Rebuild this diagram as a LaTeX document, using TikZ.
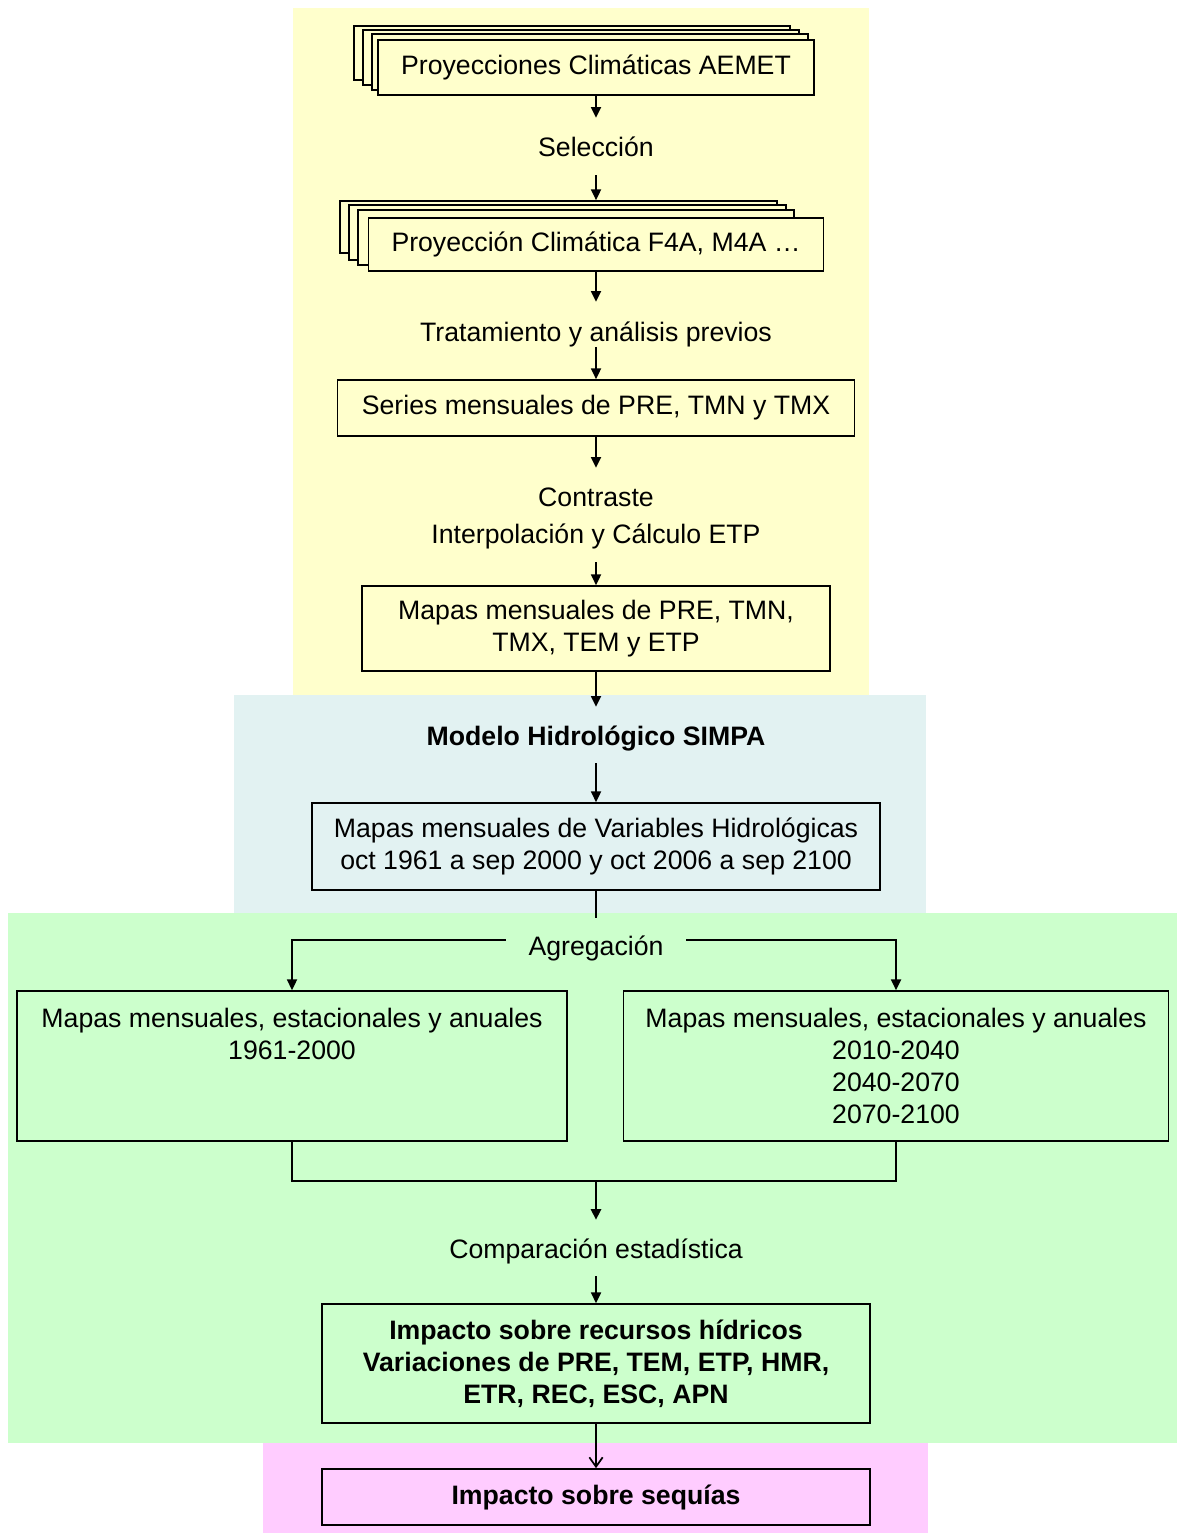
\documentclass[tikz,border=0pt]{standalone}
\usepackage{fontspec}
\setmainfont{Liberation Sans}
\usetikzlibrary{arrows.meta,calc}
\definecolor{ybg}{HTML}{FFFFCC}
\definecolor{bbg}{HTML}{E2F2F2}
\definecolor{gbg}{HTML}{CCFFCC}
\definecolor{pbg}{HTML}{FFCCFF}
\begin{document}
\begin{tikzpicture}[x=0.75pt,y=-0.75pt,
 txt/.style={font=\fontsize{20}{24}\selectfont, align=center},
 box/.style={txt, draw, line width=1.3pt, inner sep=0pt},
 lbl/.style={font=\fontsize{20}{24}\selectfont, inner xsep=0pt, inner ysep=4pt, text height=14pt, text depth=0pt},
 arr/.style={line width=1.3pt, -{Triangle[length=8pt,width=7.5pt]}},
 ln/.style={line width=1.3pt}]
\useasboundingbox (0,0) rectangle (1178,1533);
% background regions
\fill[ybg] (293,8) rectangle (869,695);
\fill[bbg] (234,695) rectangle (926,913);
\fill[gbg] (8,913) rectangle (1177,1443);
\fill[pbg] (263,1443) rectangle (928,1533);
% stacked box 1
\node[box, fill=ybg, minimum width=327pt, minimum height=40.5pt] (b1c) at (572,53) {};
\node[box, fill=ybg, minimum width=327pt, minimum height=41.25pt] (b1b) at (581,57.5) {};
\node[box, fill=ybg, minimum width=327pt, minimum height=42pt] (b1a) at (590,62) {};
\node[box, fill=ybg, minimum width=327pt, minimum height=41.25pt] (b1) at (596,67.5) {Proyecciones Climáticas AEMET};
\node[lbl] (sel) at (596,147) {Selección};
% stacked box 2
\node[box, fill=ybg, minimum width=327.75pt, minimum height=39pt] (b2c) at (558.5,227) {};
\node[box, fill=ybg, minimum width=327.75pt, minimum height=41.25pt] (b2b) at (567.5,232.5) {};
\node[box, fill=ybg, minimum width=327pt, minimum height=41.25pt] (b2a) at (576,237.5) {};
\node[box, fill=ybg, minimum width=341.25pt, minimum height=39.75pt] (b2) at (596,244.5) {Proyección Climática F4A, M4A \dots};
\node[lbl] (trat) at (596,332) {Tratamiento y análisis previos};
\node[box, fill=ybg, minimum width=387.75pt, minimum height=42pt] (b3) at (596,408) {Series mensuales de PRE, TMN y TMX};
\node[lbl] (contr) at (596,497) {Contraste};
\node[lbl] (interp) at (596,534) {Interpolación y Cálculo ETP};
\node[box, fill=ybg, minimum width=351pt, minimum height=63.75pt] (b4) at (596,628.5) {Mapas mensuales de PRE, TMN,\\TMX, TEM y ETP};
\node[lbl, font=\fontsize{20}{24}\selectfont\bfseries] (modelo) at (596,736) {Modelo Hidrológico SIMPA};
\node[box, fill=bbg, minimum width=426pt, minimum height=65.25pt] (b5) at (596,846.5) {Mapas mensuales de Variables Hidrológicas\\oct 1961 a sep 2000 y oct 2006 a sep 2100};
\node[lbl] (agr) at (596,946) {Agregación};
\node[box, fill=gbg, minimum width=412.5pt, minimum height=112.5pt] (bl) at (292,1066) {Mapas mensuales, estacionales y anuales\\1961-2000\\\vphantom{0}\\\vphantom{0}};
\node[box, fill=gbg, minimum width=408.75pt, minimum height=112.5pt] (br) at (896,1066) {Mapas mensuales, estacionales y anuales\\2010-2040\\2040-2070\\2070-2100};
\coordinate (join) at (596,1181);
\node[lbl] (comp) at (596,1249) {Comparación estadística};
\node[box, fill=gbg, font=\fontsize{20}{24}\selectfont\bfseries, minimum width=411pt, minimum height=89.25pt] (b6) at (596,1363.5) {Impacto sobre recursos hídricos\\Variaciones de PRE, TEM, ETP, HMR,\\ETR, REC, ESC, APN};
\node[box, fill=pbg, font=\fontsize{20}{24}\selectfont\bfseries, minimum width=411pt, minimum height=42pt] (b7) at (596,1497) {Impacto sobre sequías};
% connectors
\draw[arr, shorten >=10.7pt] (b1.south) -- (sel.north);
\draw[arr, shorten <=10pt] (sel.south) -- (sel.south |- b2c.north);
\draw[arr, shorten >=11.5pt] (b2.south) -- (trat.north);
\draw[arr] (trat.south) -- (b3.north);
\draw[arr, shorten >=10.7pt] (b3.south) -- (contr.north);
\draw[arr, shorten <=10pt] (interp.south) -- (b4.north);
\draw[arr, shorten >=10.7pt] (b4.south) -- (modelo.north);
\draw[arr, shorten <=9.2pt] (modelo.south) -- (b5.north);
\draw[ln] (b5.south) -- ([yshift=10pt]agr.north);
\draw[arr] ([xshift=-17pt,yshift=4.5pt]agr.west) -| (bl.north);
\draw[arr] ([xshift=17pt,yshift=4.5pt]agr.east) -| (br.north);
\draw[ln] (bl.south) |- (join) -| (br.south);
\draw[arr, line width=2.2pt, shorten >=10.7pt] (join) -- (comp.north);
\draw[arr, shorten <=9.2pt] (comp.south) -- (b6.north);
\draw[ln, -{Straight Barb[length=7pt,width=10pt]}] (b6.south) -- (b7.north);
\end{tikzpicture}
\end{document}
